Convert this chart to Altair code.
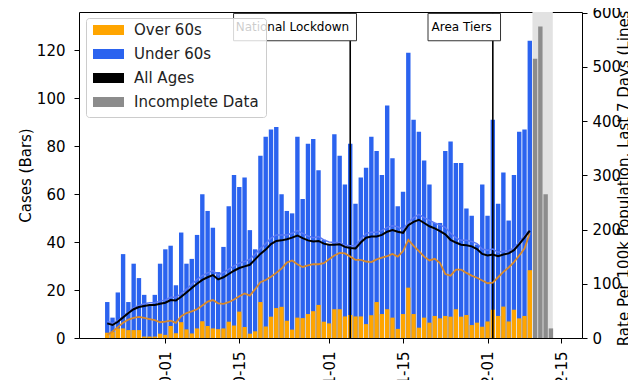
import altair as alt
import pandas as pd

# ---------------- data ----------------
first_day = "2020-09-20"
last_day = "2020-12-09"

# daily cases, all ages (bar height) and over-60s part
total_cases = [15, 8.5, 19, 35, 15, 31, 25, 18, 14, 18,
               31, 37, 38.5, 22, 44, 31, 33, 43, 60, 53,
               46, 27.5, 38, 55, 68, 63, 67, 45, 37, 76,
               84, 87, 88, 60, 53, 52, 84, 58, 81, 83,
               70, 41, 39, 85, 76, 64, 81, 56, 67, 71,
               84, 78, 68, 97, 75, 55, 61, 119, 91, 86,
               74, 64, 48, 48, 78, 82, 73, 73, 54, 51,
               39, 64, 51, 91, 56, 69, 49, 68, 86, 87, 124]
over60_cases = [2.2, 2.5, 4, 4, 3.3, 3.3, 3.3, 0.6, 0.6, 0.6,
                1.8, 1.3, 5, 2, 6.6, 3.6, 1.9, 4, 7, 5,
                4, 3.7, 4, 6.8, 5.2, 11, 4.6, 1.8, 2.8, 15,
                4.8, 8.9, 12.5, 13, 7.2, 3.5, 8.5, 8.3, 10, 11.2,
                13.8, 6.8, 6.1, 12, 12, 9, 9.6, 9, 9, 5.8,
                9.5, 15, 10, 12, 8.5, 3.8, 10, 21, 10, 4.3,
                8.5, 6.4, 9.2, 8.2, 9.2, 8.9, 12, 8.9, 9.6, 5.4,
                6.4, 4.7, 6.9, 11.8, 9.2, 13.1, 6.9, 11.8, 8.2, 9.2, 28.3]

incomplete_dates = ["2020-12-10", "2020-12-11", "2020-12-12", "2020-12-13"]
incomplete_cases = [116.5, 130, 60, 4]

# 7-day rates per 100k
all_ages_rate = [27, 24, 30, 38, 46, 53, 57, 59, 61, 61,
                 63, 65, 70, 69, 76, 84, 92, 100, 107, 112,
                 116, 108, 112, 118, 124, 129, 132, 135, 145, 155,
                 163, 173, 179, 180, 182, 185, 189, 184, 180, 178,
                 179, 174, 172, 172, 173, 168, 166, 165, 176, 185,
                 187, 187, 190, 196, 199, 196, 194, 208, 214, 218,
                 212, 206, 202, 197, 191, 181, 176, 172, 171, 169,
                 164, 155, 152, 154, 151, 154, 156, 162, 173, 185, 198]
over60_rate = [5.5, 12, 20, 28, 34, 37, 39, 37, 35, 33,
               29, 30, 32, 28, 40, 46, 49, 53, 60, 67,
               70, 64, 63, 66, 71, 77, 82, 78, 90, 103,
               107, 113, 120, 128, 139, 143, 136, 131, 134, 136,
               136, 138, 145, 152, 157, 156, 150, 144, 144, 141,
               140, 145, 148, 151, 155, 150, 160, 181, 170, 160,
               150, 143, 146, 138, 118, 115, 126, 126, 120, 115,
               111, 106, 101, 102, 112, 122, 130, 140, 152, 165, 193]
under60_rate = [31, 27, 32, 40, 48, 56, 60, 63, 65, 65,
                68, 70, 75, 75, 82, 90, 99, 108, 115, 120,
                124, 116, 121, 127, 133, 138, 141, 145, 155, 165,
                174, 184, 190, 190, 190, 193, 198, 193, 188, 185,
                187, 181, 177, 176, 176, 171, 170, 170, 182, 193,
                195, 195, 198, 204, 207, 205, 200, 213, 222, 228,
                222, 217, 212, 208, 204, 193, 185, 180, 180, 178,
                174, 164, 162, 164, 158, 160, 161, 166, 177, 189, 199]

event_dates = ["2020-11-05", "2020-12-02"]
event_labels = ["National Lockdown", "Area Tiers"]
event_box_start = ["2020-10-13T22:00:00Z", "2020-11-19T17:30:00Z"]
event_box_end = ["2020-11-06T04:30:00Z", "2020-12-03T11:00:00Z"]

shade_start = "2020-12-09T12:00:00Z"
shade_end = "2020-12-13T08:30:00Z"

legend_names = ["Over 60s", "Under 60s", "All Ages", "Incomplete Data"]
legend_colors = ["#ffa500", "#2b63ef", "#000000", "#8c8c8c"]

tick_dates = ["2020-10-01", "2020-10-15", "2020-11-01", "2020-11-15",
              "2020-12-01", "2020-12-15"]

# ---------------- tables ----------------
days = pd.date_range(first_day, last_day, freq="D").strftime("%Y-%m-%d").tolist()
n = len(days)

bars = pd.DataFrame({
    "date": days + days + incomplete_dates,
    "cases": total_cases + over60_cases + incomplete_cases,
    "series": ["Under 60s"] * n + ["Over 60s"] * n
              + ["Incomplete Data"] * len(incomplete_dates),
})
rates = pd.DataFrame({"date": days, "all": all_ages_rate,
                      "over": over60_rate, "under": under60_rate})
events = pd.DataFrame({"date": event_dates, "label": event_labels,
                       "x0": event_box_start, "x1": event_box_end})
shade = pd.DataFrame({"start": [shade_start], "end": [shade_end]})


def ms(s):
    return int(pd.Timestamp(s, tz="UTC").value // 10**6)


x_scale = alt.Scale(type="utc", domain=[ms("2020-09-15T14:20"), ms("2020-12-17T22:30")])
x_axis = alt.Axis(values=[ms(t) for t in tick_dates],
                  labelExpr="utcFormat(datum.value, '%Y-%m-%d')",
                  labelAngle=270, labelAlign="right", labelBaseline="middle",
                  labelPadding=8, tickSize=5, title=None, grid=False, domain=False)

left_scale = alt.Scale(domain=[0, 136], nice=False, zero=True)
right_scale = alt.Scale(domain=[0, 601], nice=False, zero=True)

left_axis = alt.Axis(orient="left", values=[0, 20, 40, 60, 80, 100, 120],
                     title="Cases (Bars)", titleAngle=270, titleX=-49, titleY=163,
                     titleAlign="center", titleBaseline="alphabetic",
                     labelPadding=9, tickSize=5, grid=False, domain=False)
right_axis = alt.Axis(orient="right", values=[0, 100, 200, 300, 400, 500, 600],
                      title="Rate Per 100k Population, Last 7 Days (Lines)",
                      titleAngle=270, titleX=46, titleY=163,
                      titleAlign="center", titleBaseline="alphabetic",
                      labelPadding=5, tickSize=5, grid=False, domain=False)

legend = alt.Legend(title=None, orient="none", legendX=7, legendY=6,
                    symbolType="M-1,-0.32H1V0.32H-1Z", symbolSize=961,
                    symbolStrokeWidth=0, symbolOpacity=1, clipHeight=10,
                    labelFontSize=15, labelFont="DejaVu Sans", labelColor="#222222",
                    labelOffset=10, rowPadding=9, padding=7,
                    fillColor="rgba(255,255,255,0.8)", strokeColor="#cccccc",
                    cornerRadius=3)

X = alt.X("date:T", scale=x_scale, axis=x_axis)

shade_layer = alt.Chart(shade).mark_rect(color="#e2e2e2").encode(
    x=alt.X("start:T", scale=x_scale, axis=x_axis), x2="end:T")

bar_layer = alt.Chart(bars).mark_bar(size=4.4).encode(
    x=X,
    y=alt.Y("cases:Q", scale=left_scale, axis=left_axis, stack=None),
    color=alt.Color("series:N", scale=alt.Scale(domain=legend_names, range=legend_colors),
                    legend=legend),
)

rule_layer = alt.Chart(events).mark_rule(color="black", strokeWidth=1.6).encode(x=X)

box_layer = alt.Chart(events).mark_rect(fill="white", stroke="#333333", strokeWidth=1).encode(
    x=alt.X("x0:T", scale=x_scale, axis=x_axis), x2="x1:T",
    y=alt.datum(124, scale=left_scale, axis=left_axis), y2=alt.datum(135.4))

text_layer = alt.Chart(events).mark_text(align="right", baseline="middle", fontSize=12,
                                          font="DejaVu Sans", color="black", dx=-1).encode(
    x=X, y=alt.datum(129.7, scale=left_scale, axis=left_axis), text="label:N")

left = alt.layer(shade_layer, bar_layer, rule_layer, box_layer, text_layer)

base_r = alt.Chart(rates)
under_line = base_r.mark_line(color="#5a78f5", strokeWidth=1.5).encode(
    x=X, y=alt.Y("under:Q", scale=right_scale, axis=right_axis))
over_line = base_r.mark_line(color="#d98a2b", strokeWidth=1.8).encode(
    x=X, y=alt.Y("over:Q", scale=right_scale, axis=right_axis))
all_line = base_r.mark_line(color="black", strokeWidth=2).encode(
    x=X, y=alt.Y("all:Q", scale=right_scale, axis=right_axis))

right = alt.layer(under_line, over_line, all_line)

chart = alt.layer(left, right).resolve_scale(y="independent").properties(
    width=503, height=326,
    autosize=alt.AutoSizeParams(type="none"),
    padding={"left": 71, "top": 4, "right": 46, "bottom": 42},
    title=alt.TitleParams("Hounslow", fontSize=22, font="DejaVu Sans",
                          fontWeight="normal", color="black", offset=7,
                          baseline="alphabetic"),
).configure_view(stroke="black", strokeWidth=1).configure_axis(
    labelFont="DejaVu Sans", labelFontSize=15, labelColor="black",
    titleFont="DejaVu Sans", titleFontSize=15, titleFontWeight="normal",
    titleColor="black", tickColor="black", tickWidth=1,
)

chart.save("out.html", embed_options={"renderer": "svg", "actions": False})
